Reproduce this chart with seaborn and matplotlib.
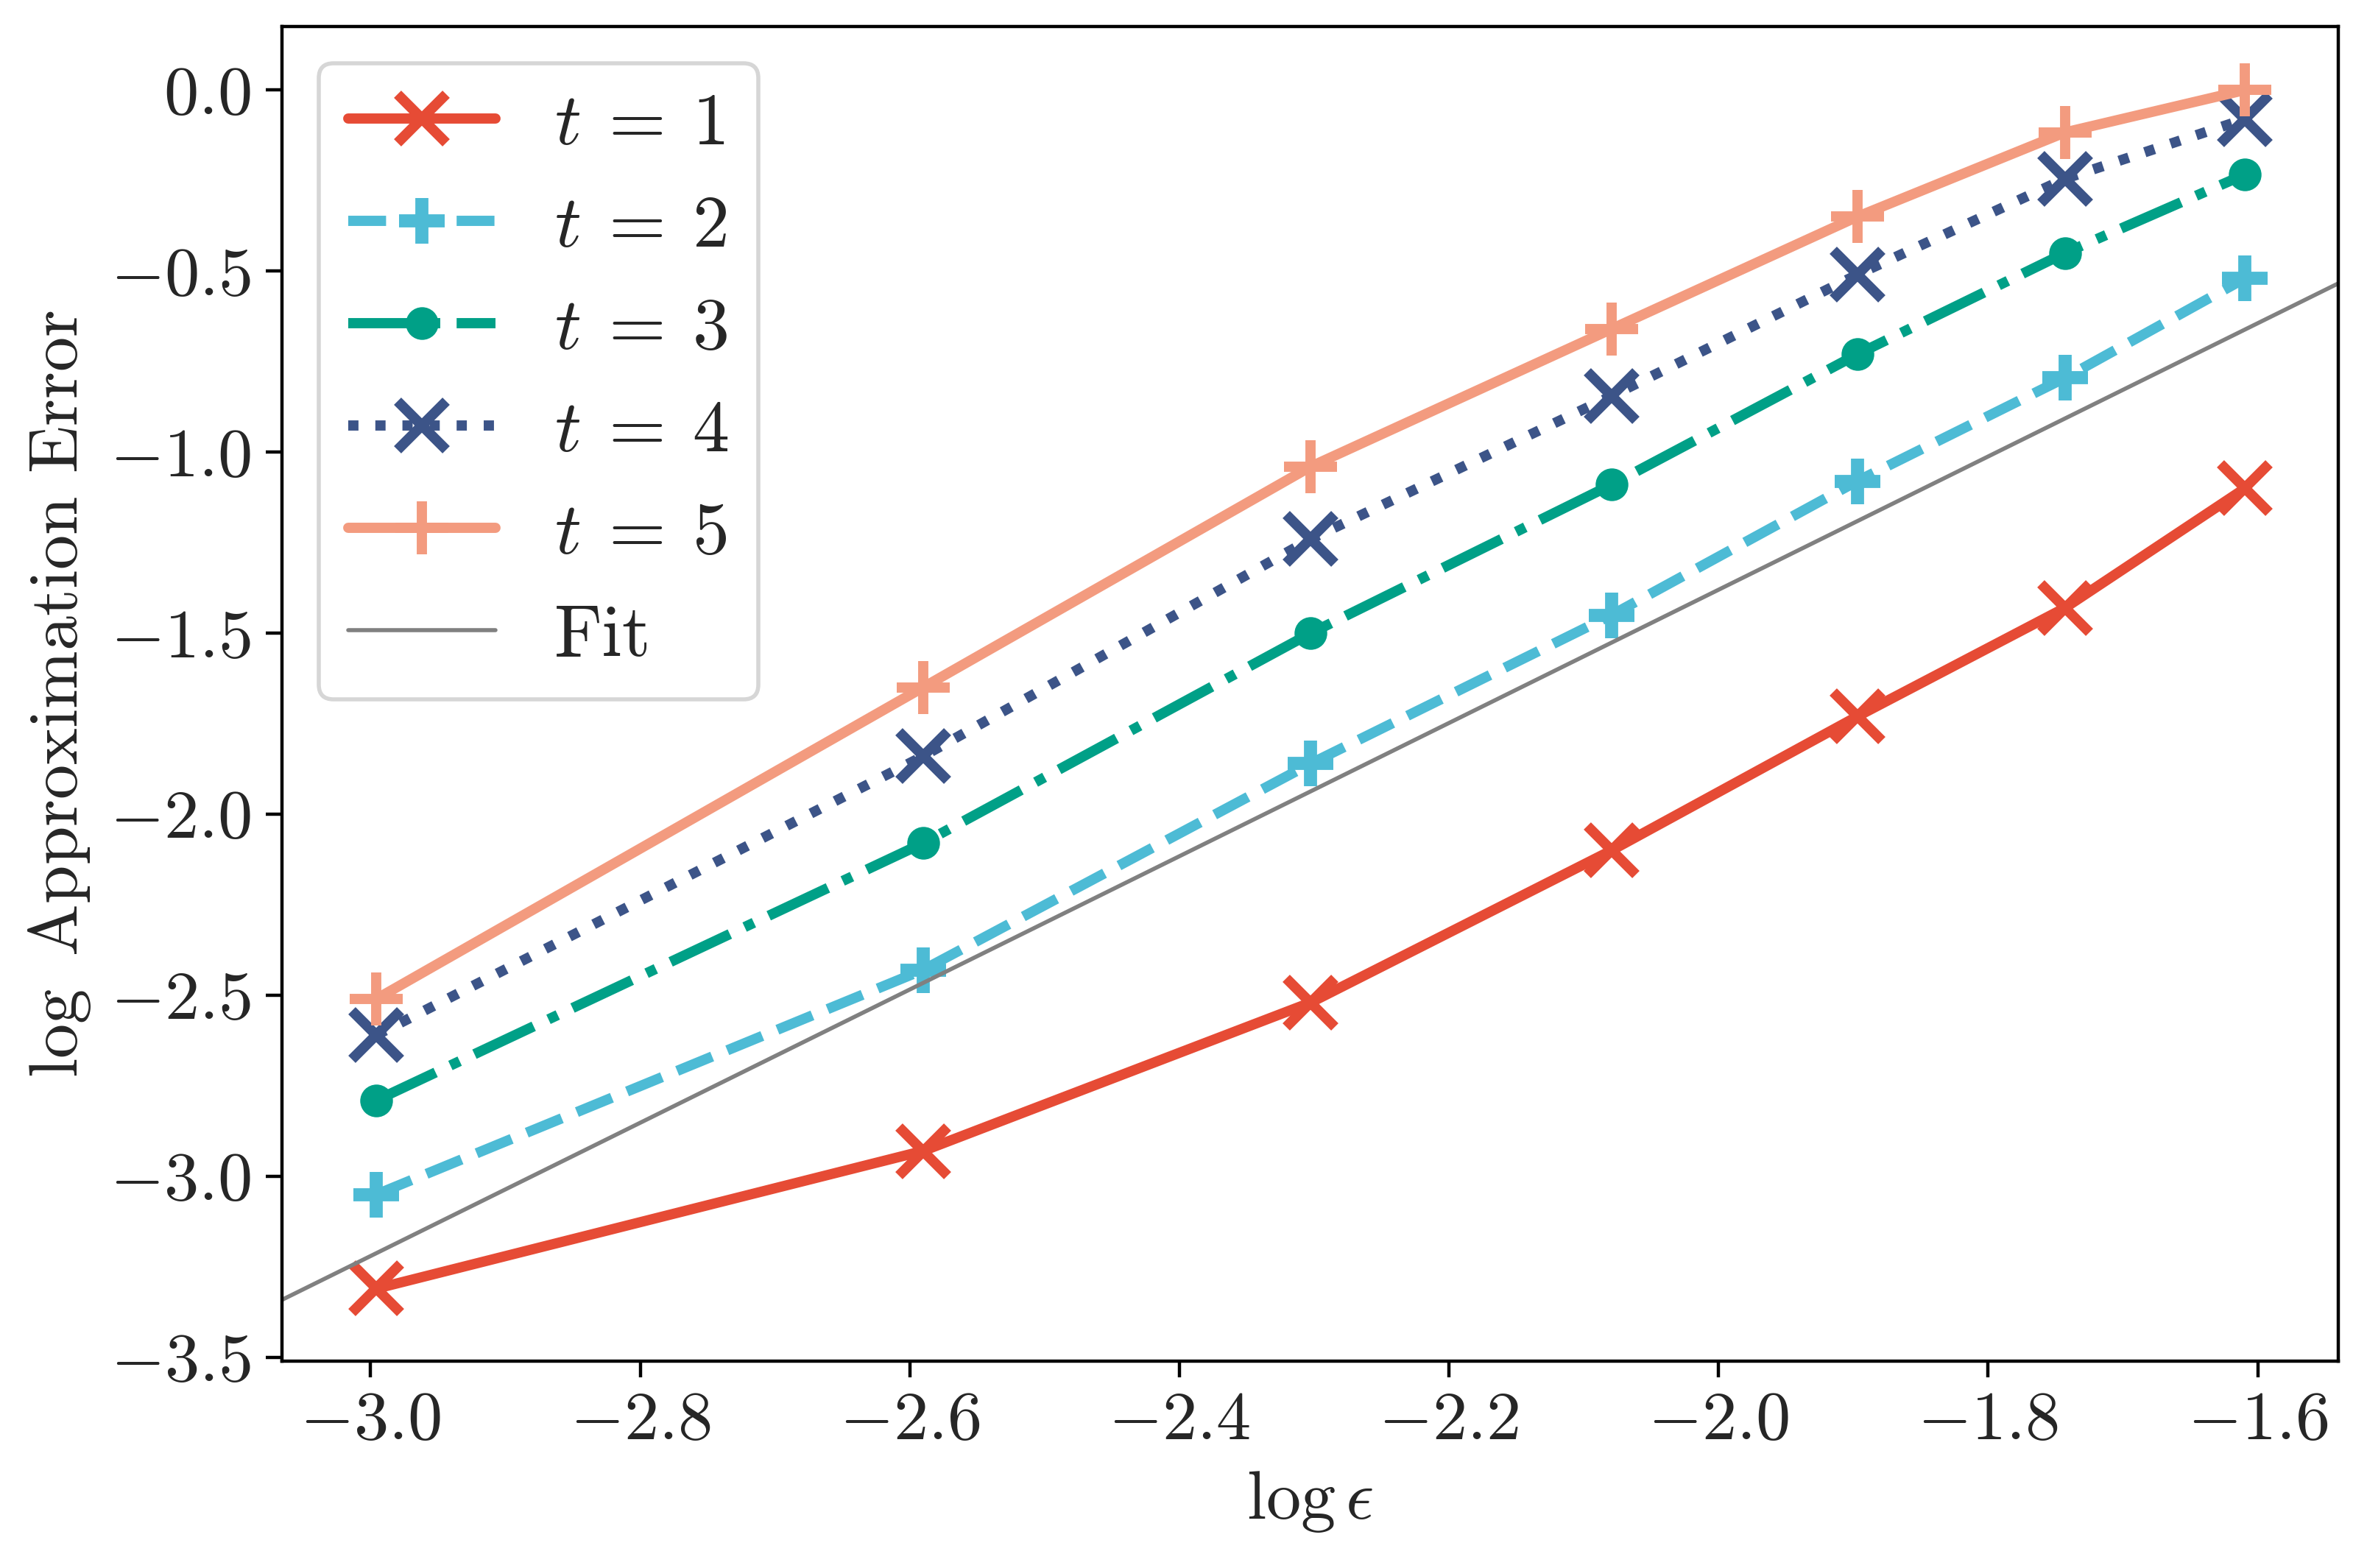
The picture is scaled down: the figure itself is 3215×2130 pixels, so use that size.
import numpy as np
import pandas as pd
import seaborn as sns
import matplotlib.pyplot as plt

# data
eps = [0.05, 0.075, 0.1, 0.125, 0.15, 0.175, 0.2]
log_eps = np.log(eps)
err_t1 = [-3.31, -2.93, -2.52, -2.10, -1.73, -1.43, -1.10]
err_t2 = [-3.05, -2.43, -1.86, -1.45, -1.08, -0.795, -0.52]
err_t3 = [-2.79, -2.08, -1.50, -1.09, -0.73, -0.45, -0.233]
err_t4 = [-2.61, -1.84, -1.24, -0.845, -0.51, -0.245, -0.08]
err_t5 = [-2.51, -1.65, -1.04, -0.66, -0.35, -0.117, 0.0]
fit_slope = 1.84
fit_intercept = 2.30

colors = ["#E64B35", "#4DBBD5", "#00A087", "#3C5488", "#F39B7F"]
styles = ["-", "--", "-.", ":", "-"]
markers = ["x", "+", "o", "x", "+"]
msizes = [12, 11, 8, 12, 13]
medges = [2.5, 3.2, 0, 2.5, 2.5]

sns.set_style("ticks")
plt.rcParams["font.family"] = ["cmr10", "DejaVu Serif"]
plt.rcParams["mathtext.fontset"] = "cm"
plt.rcParams["axes.formatter.use_mathtext"] = True
plt.rcParams["axes.unicode_minus"] = True

fig, ax = plt.subplots(figsize=(8.0375, 5.325), dpi=400)
fig.subplots_adjust(left=0.119, right=0.988, top=0.983, bottom=0.132)

series = [err_t1, err_t2, err_t3, err_t4, err_t5]
for i, vals in enumerate(series):
    df = pd.DataFrame({"x": log_eps, "y": vals})
    sns.lineplot(data=df, x="x", y="y", ax=ax, color=colors[i],
                 linestyle=styles[i], marker=markers[i], markersize=msizes[i],
                 markeredgewidth=medges[i], markeredgecolor=colors[i],
                 linewidth=2.5, label=f"$t\\:=\\:{i + 1}$")

ax.axline((0, fit_intercept), slope=fit_slope, color="gray", linewidth=1, label="Fit")

ax.set_xlim(-3.066, -1.540)
ax.set_ylim(-3.51, 0.175)
ax.set_xticks([-3.0, -2.8, -2.6, -2.4, -2.2, -2.0, -1.8, -1.6])
ax.set_yticks([0.0, -0.5, -1.0, -1.5, -2.0, -2.5, -3.0, -3.5])
ax.tick_params(labelsize=17, length=4, width=0.8, color="black")
for s in ax.spines.values():
    s.set_color("black")
    s.set_linewidth(0.8)

ax.set_xlabel(r"$\log\epsilon$", fontsize=17)
ax.set_ylabel(r"$\log$ Approximation Error", fontsize=17)
ax.legend(loc="upper left", fontsize=18, handlelength=2.0)

fig.savefig("out.png", dpi=400)
